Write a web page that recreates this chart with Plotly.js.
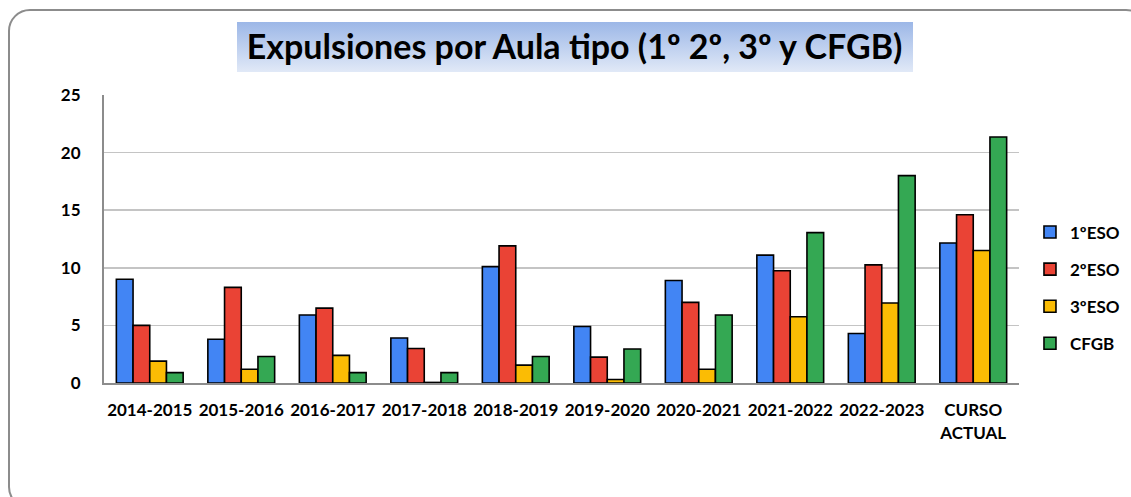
<!DOCTYPE html>
<html>
<head>
<meta charset="utf-8">
<script src="https://cdn.plot.ly/plotly-3.0.1.min.js"></script>
<style>
  html, body { margin: 0; padding: 0; background: #ffffff; overflow: hidden; }
  #wrap { position: relative; width: 1131px; height: 497px; }
  #frame { position: absolute; left: 8px; top: 9px; width: 1140px; height: 500px;
           border: 2px solid #8c8c8c; border-radius: 22px; box-sizing: border-box; }
  #titlebg { position: absolute; left: 237px; top: 22px; width: 676px; height: 50px;
             background: linear-gradient(to bottom, #9cb7e7, #e1e9f7); }
  #chart { position: absolute; left: 0; top: 0; width: 1131px; height: 497px; }
</style>
</head>
<body>
<div id="wrap">
  <div id="frame"></div>
  <div id="titlebg"></div>
  <div id="chart"></div>
</div>
<script>
const categories = ["2014-2015","2015-2016","2016-2017","2017-2018","2018-2019","2019-2020","2020-2021","2021-2022","2022-2023","CURSO<br>ACTUAL"];
const seriesNames = ["1ºESO","2ºESO","3ºESO","CFGB"];
const eso1 = [9, 3.8, 5.9, 3.9, 10.1, 4.9, 8.9, 11.1, 4.3, 12.15];
const eso2 = [5, 8.3, 6.5, 3, 11.9, 2.25, 7, 9.75, 10.25, 14.6];
const eso3 = [1.9, 1.2, 2.4, 0.05, 1.55, 0.3, 1.2, 5.75, 6.95, 11.5];
const cfgb = [0.9, 2.3, 0.9, 0.9, 2.3, 2.95, 5.9, 13.05, 18, 21.35];
const colors = ["#4285F4","#EA4335","#FBBC04","#34A853"];
const yTicks = [0,5,10,15,20,25];

const FONT = "Lato, 'Open Sans', sans-serif";
const values = [eso1, eso2, eso3, cfgb];
const traces = values.map((v, i) => ({
  type: "bar",
  name: seriesNames[i],
  x: categories,
  y: v,
  legendgroup: "g" + i,
  marker: { color: colors[i], line: { color: "#000000", width: 1.6 } },
  hoverinfo: "x+y+name"
}));

const layout = {
  width: 1131, height: 497,
  paper_bgcolor: "rgba(0,0,0,0)",
  plot_bgcolor: "rgba(0,0,0,0)",
  margin: { l: 104, r: 112, t: 95, b: 114, autoexpand: false },
  barmode: "group",
  bargap: 0.27,
  bargroupgap: 0,
  showlegend: true,
  font: { family: FONT, color: "#000000" },
  title: {
    text: "<b>Expulsiones por Aula tipo (1º 2º, 3º y CFGB)</b>",
    font: { family: FONT, size: 34, color: "#000000" },
    xref: "container", yref: "container",
    x: 0.508, y: 0.905, xanchor: "center", yanchor: "middle"
  },
  xaxis: {
    type: "category",
    tickfont: { family: FONT, size: 17, color: "#000000", weight: "bold" },
    ticks: "", showgrid: false, zeroline: false,
    showline: true, linecolor: "#8c8c8c", linewidth: 2,
    ticklabelstandoff: 11,
    tickangle: 0
  },
  yaxis: {
    range: [0, 25],
    tickvals: yTicks,
    tickfont: { family: FONT, size: 17, color: "#000000", weight: "bold" },
    ticks: "", showgrid: true, gridcolor: "#c4c4c4", gridwidth: 1.5,
    zeroline: false,
    showline: true, linecolor: "#8c8c8c", linewidth: 2,
    ticklabelstandoff: 18
  },
  legend: {
    x: 1.012, xanchor: "left",
    y: 0.33, yanchor: "middle",
    traceorder: "grouped",
    tracegroupgap: 12,
    font: { family: FONT, size: 17, color: "#000000", weight: "bold" },
    itemwidth: 30,
    bgcolor: "rgba(0,0,0,0)"
  }
};

Plotly.newPlot("chart", traces, layout, { displayModeBar: false, staticPlot: true });
</script>
</body>
</html>
